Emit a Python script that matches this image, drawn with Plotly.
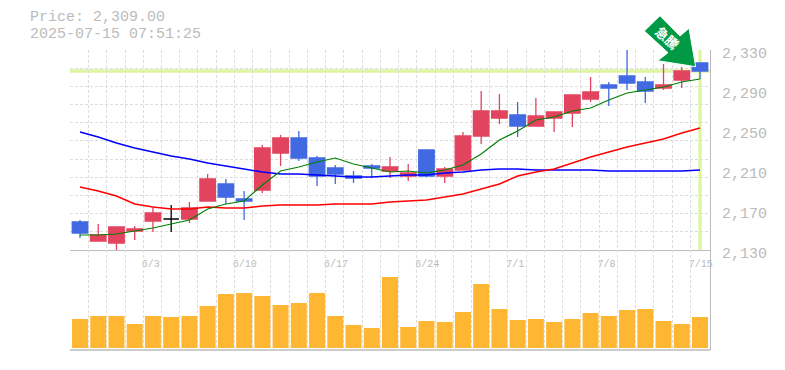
import plotly.graph_objects as go

dates_idx = list(range(35))
tick_pos = [4, 9, 14, 19, 24, 29, 34]
tick_labels = ["6/3", "6/10", "6/17", "6/24", "7/1", "7/8", "7/15"]
y_ticks = [2130, 2170, 2210, 2250, 2290, 2330]

opens = [2158,2139,2137,2149,2159,2161,2161,2179,2196,2181,2190,2227,2242,2222,2212,2204,2214,2209,2204,2230,2204,2210,2244,2262,2265,2254,2262,2267,2281,2295,2304,2298,2292,2300,2317]
highs = [2160,2156,2153,2154,2172,2175,2178,2206,2201,2189,2235,2245,2249,2224,2215,2209,2216,2223,2216,2230,2213,2248,2289,2286,2278,2282,2268,2285,2303,2298,2330,2303,2316,2313,2317]
lows = [2142,2139,2130,2140,2148,2148,2157,2179,2176,2160,2187,2214,2219,2194,2196,2197,2202,2202,2199,2203,2197,2210,2236,2256,2243,2254,2248,2253,2278,2274,2290,2277,2290,2292,2301]
closes = [2147,2145,2153,2151,2167,2161,2172,2201,2183,2179,2232,2242,2222,2204,2206,2202,2212,2213,2207,2204,2211,2244,2269,2269,2254,2264,2268,2285,2288,2292,2297,2289,2295,2309,2309]

ma_short = [2145,2145,2146,2149,2152,2156,2160,2171,2176,2179,2195,2209,2213,2218,2222,2216,2212,2208,2209,2207,2210,2215,2226,2240,2249,2260,2263,2269,2272,2280,2287,2290,2293,2298,2301]
ma_mid = [2193,2189,2184,2176,2173,2171,2171,2173,2172,2172,2174,2175,2175,2175,2176,2176,2176,2178,2179,2180,2183,2186,2191,2196,2204,2208,2211,2217,2223,2228,2233,2237,2241,2247,2252]
ma_long = [2248,2243,2237,2232,2228,2224,2221,2217,2214,2211,2208,2206,2206,2205,2204,2203,2203,2204,2205,2205,2207,2208,2210,2211,2211,2210,2210,2210,2210,2209,2209,2209,2209,2209,2210]
volumes = [29,32,32,24,32,31,32,42,54,55,52,43,45,55,32,23,20,71,21,27,26,36,64,39,28,29,26,29,35,32,38,39,27,24,31]

last_price = 2309
TXT = "#bbbbbb"
GRID = "#dddddd"
MONO = "Liberation Mono"
PAGE = 8
L, R, T, B = 70, 710, 50, 350
SLOT = 18.235
CX0 = 80.0


def px(x, y):
    return (x - L) / (R - L), (B - y) / (B - T)


def path(points):
    out = []
    for i, (x, y) in enumerate(points):
        a, b = px(x, y)
        out.append(("M" if i == 0 else "L") + f"{a:.5f},{b:.5f}")
    return " ".join(out) + " Z"


reg = [i for i in dates_idx if opens[i] != closes[i]]
doji = [i for i in dates_idx if opens[i] == closes[i]]

fig = go.Figure()
fig.add_trace(go.Bar(x=dates_idx, y=volumes, yaxis="y2", marker=dict(color="#FFB733", line=dict(width=0)), width=16 / SLOT, showlegend=False))
for vals, col, w in [(ma_long, "#0000ff", 1.5), (ma_mid, "#ff0000", 1.5), (ma_short, "#008000", 1.2)]:
    fig.add_trace(go.Scatter(x=dates_idx, y=vals, mode="lines", line=dict(color=col, width=w), showlegend=False))
fig.add_trace(go.Candlestick(
    x=reg, open=[opens[i] for i in reg], high=[highs[i] for i in reg], low=[lows[i] for i in reg], close=[closes[i] for i in reg],
    increasing=dict(line=dict(color="#E2445F", width=1.3), fillcolor="#E2445F"),
    decreasing=dict(line=dict(color="#4169E1", width=1.3), fillcolor="#4169E1"),
    whiskerwidth=0, showlegend=False))
fig.add_trace(go.Candlestick(
    x=doji, open=[opens[i] for i in doji], high=[highs[i] for i in doji], low=[lows[i] for i in doji], close=[closes[i] for i in doji],
    increasing=dict(line=dict(color="#000000", width=1.3), fillcolor="#000000"),
    decreasing=dict(line=dict(color="#000000", width=1.3), fillcolor="#000000"),
    whiskerwidth=0, showlegend=False))

grid_x = [i - 0.532 for i in range(35)]
grid_y = [2130 + 200 * i / 11 for i in range(12)]
tick_x = [p + (len(t) * 3 - 11.3) / SLOT for p, t in zip(tick_pos, tick_labels)]

shapes = [
    dict(type="line", xref="paper", yref="y", x0=0, x1=1, y0=last_price, y1=last_price, line=dict(color="#DFF5A0", width=3.4), layer="below"),
    dict(type="line", xref="x", yref="y", x0=34, x1=34, y0=2130, y1=2330, line=dict(color="#DFF5A0", width=3.4), layer="below"),
    dict(type="line", xref="paper", yref="paper", x0=0, x1=1, y0=0, y1=0, line=dict(color=TXT, width=1.5)),
    dict(type="path", xref="paper", yref="paper", fillcolor="#009944", line=dict(color="#ffffff", width=1),
         path=path([(660, 15.7), (644.3, 31), (668, 52.7), (657.7, 60.7), (695.7, 66.7), (689, 28.3), (680, 36)])),
]

anns = []
for text, y in [("Price: 2,309.00", 17), ("2025-07-15 07:51:25", 34)]:
    a, b = px(29, y)
    anns.append(dict(text=text, xref="paper", yref="paper", x=a, y=b, xanchor="left", yanchor="middle", showarrow=False,
                     height=14, borderpad=0, font=dict(family=MONO, size=15, color=TXT)))
a, b = px(667, 38)
anns.append(dict(text="<b>急騰</b>", xref="paper", yref="paper", x=a, y=b, xanchor="center", yanchor="middle", showarrow=False, textangle=42,
                 font=dict(family="Noto Sans CJK JP", size=13, color="#ffffff")))

fig.update_layout(
    width=785 - PAGE, height=370 - PAGE, autosize=False,
    margin=dict(l=L - PAGE, r=785 - R, t=T - PAGE, b=370 - B, pad=0, autoexpand=False),
    paper_bgcolor="#ffffff", plot_bgcolor="#ffffff",
    showlegend=False, boxgap=0.15, boxgroupgap=0, barmode="overlay", dragmode=False,
    shapes=shapes, annotations=anns,
    xaxis=dict(range=[(L - CX0) / SLOT, (R - CX0) / SLOT], domain=[0, 1], anchor="y", rangeslider=dict(visible=False),
               tickmode="array", tickvals=tick_x, ticktext=tick_labels, ticks="", showgrid=False, zeroline=False,
               tickfont=dict(family=MONO, size=10, color=TXT), showline=True, linecolor=TXT, linewidth=1,
               ticklabelstandoff=4, automargin=False,
               minor=dict(tickmode="array", tickvals=grid_x, showgrid=True, gridcolor=GRID, griddash="3px,2px", gridwidth=1, ticks="")),
    yaxis=dict(range=[2130, 2330], domain=[1 / 3, 1], anchor="x", side="right", tickmode="array", tickvals=y_ticks,
               ticktext=[f"{v:,}" for v in y_ticks], ticks="", showgrid=False, zeroline=False,
               tickfont=dict(family=MONO, size=15, color=TXT), showline=True, linecolor=TXT, linewidth=1,
               ticklabelstandoff=8, ticklabelshift=3, automargin=False,
               minor=dict(tickmode="array", tickvals=grid_y, showgrid=True, gridcolor=GRID, griddash="3px,2px", gridwidth=1, ticks="")),
    yaxis2=dict(range=[-2, 98], domain=[0, 1 / 3], anchor="x", side="right", showticklabels=False, ticks="", showgrid=False,
                zeroline=False, showline=True, linecolor=TXT, linewidth=1, automargin=False),
)
fig.write_html("out.html", config=dict(displayModeBar=False))
